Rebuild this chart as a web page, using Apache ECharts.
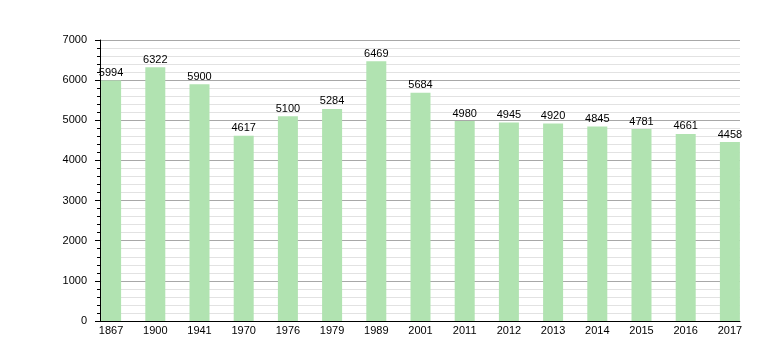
<!DOCTYPE html>
<html><head><meta charset="utf-8">
<script src="https://cdn.jsdelivr.net/npm/echarts@6/dist/echarts.min.js"></script>
<style>html,body{margin:0;padding:0;background:#fff}#c{width:780px;height:360px}</style>
</head><body><div id="c"></div>
<script>
const categories = ['1867','1900','1941','1970','1976','1979','1989','2001','2011','2012','2013','2014','2015','2016','2017'];
const population = [5994,6322,5900,4617,5100,5284,6469,5684,4980,4945,4920,4845,4781,4661,4458];
const yMin = 0, yMax = 7000, yStep = 1000;

const chart = echarts.init(document.getElementById('c'), null, {renderer:'canvas'});
const font = 'Liberation Sans, Arial, sans-serif';
chart.setOption({
  animation:false,
  grid:[
    {left:100, top:40, width:640, height:281},
    {left:89, top:40, width:663, height:281}
  ],
  xAxis:[
    {gridIndex:0, type:'category', data:categories, boundaryGap:true,
     axisLine:{show:true, lineStyle:{color:'#000', width:1}},
     axisTick:{show:false}, axisLabel:{show:false}, splitLine:{show:false}},
    {gridIndex:1, type:'category', data:categories, boundaryGap:true,
     axisLine:{show:false}, axisTick:{show:false},
     axisLabel:{show:true, color:'#000', fontFamily:font, fontSize:11, margin:4, interval:0}}
  ],
  yAxis:[
    {gridIndex:0, type:'value', min:yMin, max:yMax, interval:yStep,
     axisLine:{show:true, lineStyle:{color:'#000', width:1}},
     axisTick:{show:true, length:5, lineStyle:{color:'#000'}},
     minorTick:{show:true, splitNumber:5, length:3, lineStyle:{color:'#000'}},
     splitLine:{show:true, lineStyle:{color:'#a8a8a8', width:1}},
     minorSplitLine:{show:true, lineStyle:{color:'#e2e2e2', width:1}},
     axisLabel:{color:'#000', fontFamily:font, fontSize:11, margin:13, formatter:v=>String(v)}},
    {gridIndex:1, type:'value', min:yMin, max:yMax, interval:yStep, show:false,
     splitLine:{show:false}}
  ],
  series:[{
    type:'bar', xAxisIndex:1, yAxisIndex:1, data:population, barWidth:20,
    itemStyle:{color:'#b1e3b1'},
    label:{show:true, position:'top', distance:2, color:'#000', fontFamily:font, fontSize:11}
  }]
});
</script></body></html>
